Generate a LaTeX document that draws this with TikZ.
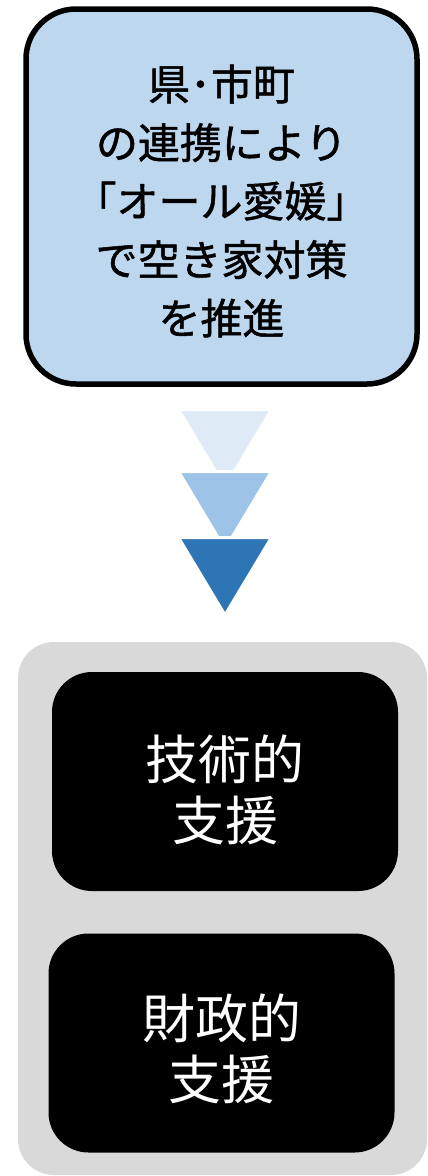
\documentclass[tikz,border=0pt]{standalone}
\usepackage{fontspec}
\newfontfamily\jpfont{Noto Sans CJK JP}
\newfontfamily\jpheavy{Noto Sans CJK JP}[FakeBold=1.2]
\usepackage{tikz}

\definecolor{kenblue}{HTML}{BDD7EE}
\definecolor{tri1}{HTML}{DEEBF7}
\definecolor{tri2}{HTML}{9DC3E6}
\definecolor{tri3}{HTML}{2E75B6}
\definecolor{panelgray}{HTML}{D9D9D9}

\tikzset{
    kenbox/.style={draw=black, line width=5.5pt, fill=kenblue, rounded corners=50pt,
        minimum width=391pt, minimum height=375pt},
    panel/.style={fill=panelgray, rounded corners=36pt, minimum width=409pt, minimum height=533pt},
    shienbox/.style={fill=black, rounded corners=40pt, minimum width=346pt, minimum height=219pt},
    kenlabel/.style={align=center, font=\jpheavy\fontsize{42}{58.5}\selectfont},
    shienlabel/.style={align=center, text=white, font=\jpfont\fontsize{53}{61}\selectfont}
}

\begin{document}
\begin{tikzpicture}[x=1pt, y=-1pt]
    \useasboundingbox (0,0) rectangle (428,1176);
    % top box
    \node[kenbox] (ken) at (221.5,196.5) {};
    \node[kenlabel] (kentext) at (221.5,201) {県･市町\\の連携により\\「オール愛媛」\\で空き家対策\\を推進};
    % triangles
    \foreach \y/\c in {411/tri1,473/tri2,539/tri3}
        \filldraw[fill=\c, draw=white, line width=3pt] (178.5,\y-1.5) -- (271.5,\y-1.5) -- (225,\y+76) -- cycle;
    % bottom panel
    \node[panel] (shien) at (222.5,908.5) {};
    \node[shienbox] (gijutsu) at (225,781.5) {};
    \node[shienlabel] (gijutsutext) at (225,789.5) {技術的\\支援};
    \node[shienbox] (zaisei) at (221.5,1043) {};
    \node[shienlabel] (zaiseitext) at (221.5,1048.5) {財政的\\支援};
\end{tikzpicture}
\end{document}
